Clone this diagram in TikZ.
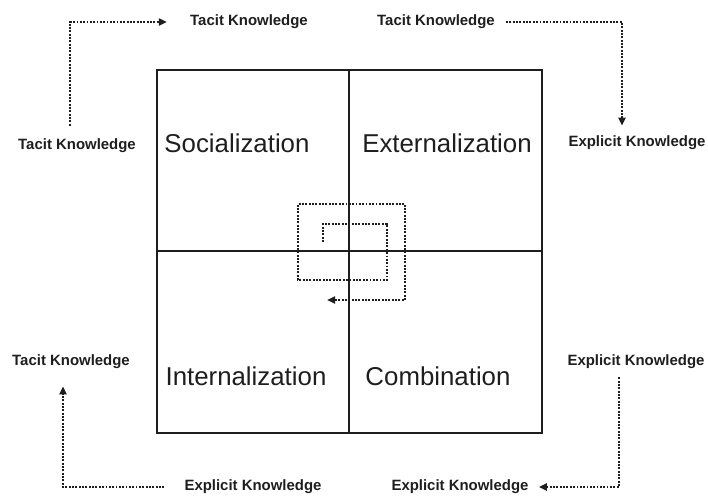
\documentclass[tikz,border=0pt]{standalone}
\usepackage{fontspec}
\setmainfont{Liberation Sans}
\usetikzlibrary{arrows.meta,positioning}
\definecolor{inkgray}{RGB}{30,30,30}

\begin{document}
\begin{tikzpicture}[x=0.02cm, y=-0.02cm, >={Triangle[length=4.6pt,width=4pt]},
  klabel/.style={font=\fontsize{8.5}{10}\selectfont\bfseries, text=inkgray, inner sep=0pt},
  modelabel/.style={font=\fontsize{14.7}{17}\selectfont, text=inkgray, inner sep=0pt},
  kflow/.style={inkgray, line width=1.45pt, dash pattern=on 1.1pt off 0.8pt}]

  % page frame
  \useasboundingbox (0,0) rectangle (708,495);

  %% -- SECI square ---------------------------------------------------
  \draw[inkgray, line width=0.6pt] (349,70) -- (349,433);
  \draw[inkgray, line width=0.6pt] (157,251) -- (542,251);
  \draw[inkgray, line width=1.2pt] (157,70) rectangle (542,433);

  \node[modelabel] (soc) at (237,143) {Socialization};
  \node[modelabel] (ext) at (447,143) {Externalization};
  \node[modelabel] (int) at (246,376) {Internalization};
  \node[modelabel] (com) at (438,376) {Combination};

  %% -- spiral in the middle -----------------------------------------
  \draw[kflow, ->] (323,242) -- (323,224) -- (387,224) -- (387,280)
    -- (298,280) -- (298,204) -- (405,204) -- (405,300) -- (327,300);

  %% -- knowledge labels ---------------------------------------------
  \node[klabel] (tt)  at (249,22)  {Tacit Knowledge};
  \node[klabel] (lt)  at (77,146)  {Tacit Knowledge};
  \node[klabel] (rt)  at (436,22)  {Tacit Knowledge};
  \node[klabel] (re)  at (637,143) {Explicit Knowledge};
  \node[klabel] (lbt) at (71,362)  {Tacit Knowledge};
  \node[klabel] (lbe) at (253,487) {Explicit Knowledge};
  \node[klabel] (rbe) at (636,362) {Explicit Knowledge};
  \node[klabel] (bbe) at (460,487) {Explicit Knowledge};

  %% -- conversion arrows --------------------------------------------
  % tacit -> tacit
  \draw[kflow, ->, shorten <=0.26cm, shorten >=0.46cm]
    ([xshift=-0.14cm]lt.north) |- (tt.west);
  % tacit -> explicit
  \draw[kflow, ->, shorten <=0.22cm, shorten >=0.2cm]
    (rt.east) -| ([xshift=-0.3cm]re.north);
  % explicit -> explicit
  \draw[kflow, ->, shorten <=0.16cm, shorten >=0.2cm]
    ([xshift=-0.34cm]rbe.south) |- (bbe.east);
  % explicit -> tacit
  \draw[kflow, ->, shorten <=0.4cm, shorten >=0.34cm]
    (lbe.west) -| ([xshift=-0.16cm]lbt.south);

\end{tikzpicture}
\end{document}
